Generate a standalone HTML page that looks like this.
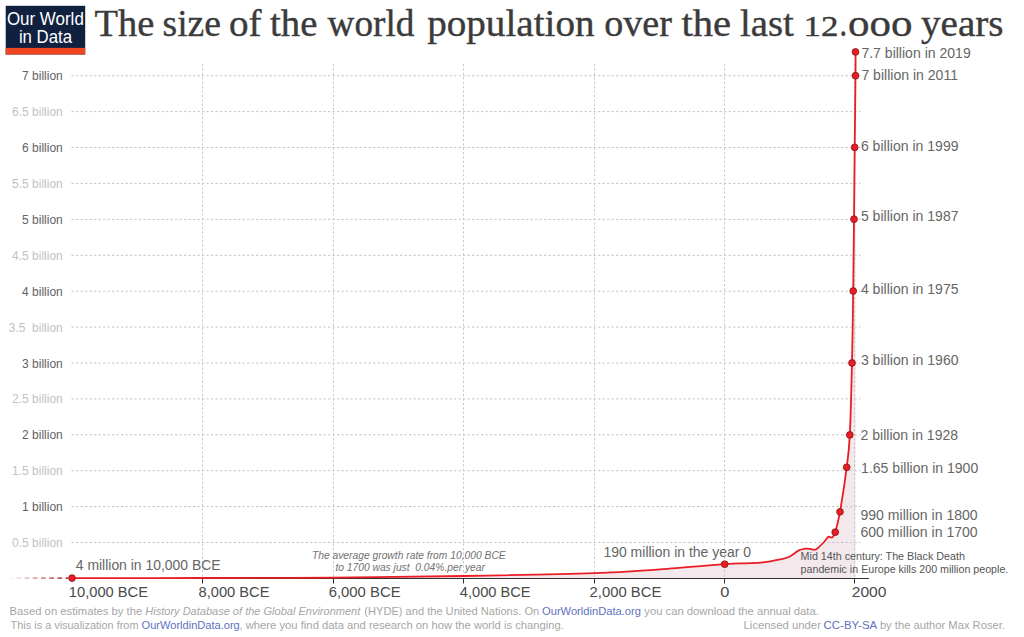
<!DOCTYPE html>
<html><head><meta charset="utf-8"><style>
html,body{margin:0;padding:0;background:#fff;width:1024px;height:637px;overflow:hidden}
svg{display:block;font-family:"Liberation Sans",sans-serif}
.yd{font-size:12px;fill:#626262;text-anchor:end}
.yl{font-size:12px;fill:#c2c2c2;text-anchor:end}
.rl{font-size:14.05px;fill:#666}
.xl{font-size:14.7px;fill:#4a4a4a}
.ft{font-size:11.2px;fill:#a6a6a6}
.lk{fill:#6270c0}
</style></head><body>
<svg width="1024" height="637" viewBox="0 0 1024 637">
<defs>
<linearGradient id="fade" gradientUnits="userSpaceOnUse" x1="8" y1="0" x2="70" y2="0">
<stop offset="0" stop-color="#b8333a" stop-opacity="0"/>
<stop offset="1" stop-color="#b8333a" stop-opacity="1"/>
</linearGradient>
</defs>
<!-- logo -->
<rect x="5.7" y="5.8" width="79.5" height="48.7" fill="#10213f"/>
<rect x="5.7" y="47.9" width="79.5" height="6.6" fill="#ee4722"/>
<text x="6.89" y="25.1" font-size="18.7" fill="#fff" textLength="76.94" lengthAdjust="spacingAndGlyphs">Our World</text>
<text x="18.9" y="42.8" font-size="18.7" fill="#fff" textLength="53.19" lengthAdjust="spacingAndGlyphs">in Data</text>
<!-- title -->
<g font-family="Liberation Serif" font-size="38.75" fill="#3b3b3b" stroke="#3b3b3b" stroke-width="0.4" lengthAdjust="spacingAndGlyphs">
<text x="94.4" y="36.4" textLength="59.84" lengthAdjust="spacingAndGlyphs">The</text>
<text x="162.53" y="36.4" textLength="58.48" lengthAdjust="spacingAndGlyphs">size</text>
<text x="229" y="36.4" textLength="32.58" lengthAdjust="spacingAndGlyphs">of</text>
<text x="270.1" y="36.4" textLength="47.24" lengthAdjust="spacingAndGlyphs">the</text>
<text x="327.6" y="36.4" textLength="86.79" lengthAdjust="spacingAndGlyphs">world</text>
<text x="427.2" y="36.4" textLength="167.35" lengthAdjust="spacingAndGlyphs">population</text>
<text x="604.22" y="36.4" textLength="67.64" lengthAdjust="spacingAndGlyphs">over</text>
<text x="681.4" y="36.4" textLength="49.56" lengthAdjust="spacingAndGlyphs">the</text>
<text x="740.0" y="36.4" textLength="53.71" lengthAdjust="spacingAndGlyphs">last</text>
<text x="803.42" y="36.4" font-size="29.5" textLength="34.95" lengthAdjust="spacingAndGlyphs">12</text>
<text x="839.43" y="36.4" textLength="7.59" lengthAdjust="spacingAndGlyphs">.</text>
<text x="848.09" y="36.4" textLength="64.46" lengthAdjust="spacingAndGlyphs">ooo</text>
<text x="921.0" y="36.4" textLength="82.47" lengthAdjust="spacingAndGlyphs">years</text>
</g>
<!-- fill -->
<path d="M72,578.1 C93.67,578.08 158.50,578.08 202,578.0 C245.50,577.92 289.33,577.93 333,577.6 C376.67,577.27 420.50,576.73 464,576.0 C507.50,575.27 561.33,574.32 594,573.2 C626.67,572.08 638.17,570.80 660,569.3 C681.83,567.80 710.83,565.20 725,564.2 C739.17,563.20 738.67,563.60 745,563.3 C751.33,563.00 757.17,563.05 763,562.4 C768.83,561.75 775.60,560.35 780,559.4 C784.40,558.45 786.27,558.20 789.4,556.7 C792.53,555.20 796.18,551.73 798.8,550.4 C801.42,549.07 803.23,548.95 805.1,548.7 C806.97,548.45 808.43,548.72 810,548.9 C811.57,549.08 813.22,549.92 814.5,549.8 C815.78,549.68 816.12,549.50 817.7,548.2 C819.28,546.90 822.23,543.88 824,542 C825.77,540.12 826.95,537.67 828.3,536.9 C829.65,536.13 830.95,538.18 832.1,537.4 C833.25,536.62 833.88,536.47 835.2,532.2 C836.52,527.93 838.08,522.62 840,511.8 C841.92,500.98 845.07,480.12 846.7,467.3 C848.33,454.48 848.92,452.28 849.8,434.9 C850.68,417.52 851.43,386.98 852,363 C852.57,339.02 852.87,314.97 853.2,291 C853.53,267.03 853.75,243.13 854,219.2 C854.25,195.27 854.45,171.32 854.7,147.4 C854.95,123.48 855.37,91.62 855.5,75.7 C855.63,59.78 855.50,55.87 855.5,51.9 L855.7,51.9 L855.7,578 L72,578 Z" fill="#f3e8ec"/>
<!-- grid -->
<g stroke="#c4c4c4" stroke-width="1" stroke-dasharray="2.3,2.2">
<line x1="71.5" y1="542.5" x2="860.5" y2="542.5"/><line x1="71.5" y1="506.6" x2="860.5" y2="506.6"/><line x1="71.5" y1="470.7" x2="860.5" y2="470.7"/><line x1="71.5" y1="434.8" x2="860.5" y2="434.8"/><line x1="71.5" y1="398.9" x2="860.5" y2="398.9"/><line x1="71.5" y1="363.0" x2="860.5" y2="363.0"/><line x1="71.5" y1="327.1" x2="860.5" y2="327.1"/><line x1="71.5" y1="291.2" x2="860.5" y2="291.2"/><line x1="71.5" y1="255.3" x2="860.5" y2="255.3"/><line x1="71.5" y1="219.4" x2="860.5" y2="219.4"/><line x1="71.5" y1="183.4" x2="860.5" y2="183.4"/><line x1="71.5" y1="147.5" x2="860.5" y2="147.5"/><line x1="71.5" y1="111.6" x2="860.5" y2="111.6"/><line x1="71.5" y1="75.7" x2="860.5" y2="75.7"/>
</g>
<g stroke="#c8c8c8" stroke-width="1" stroke-dasharray="2.2,2.2">
<line x1="202.5" y1="64" x2="202.5" y2="578"/><line x1="333.5" y1="64" x2="333.5" y2="578"/><line x1="463.5" y1="64" x2="463.5" y2="578"/><line x1="594.5" y1="64" x2="594.5" y2="578"/><line x1="724.5" y1="64" x2="724.5" y2="578"/><line x1="854.5" y1="64" x2="854.5" y2="578"/>
</g>
<text class="yl" x="62.8" y="547.0">0.5 billion</text><text class="yd" x="62.8" y="511.1">1 billion</text><text class="yl" x="62.8" y="475.2">1.5 billion</text><text class="yd" x="62.8" y="439.3">2 billion</text><text class="yl" x="62.8" y="403.4">2.5 billion</text><text class="yd" x="62.8" y="367.5">3 billion</text><text class="yl" x="62.8" y="331.6">3.5&#160;&#160;billion</text><text class="yd" x="62.8" y="295.7">4 billion</text><text class="yl" x="62.8" y="259.8">4.5 billion</text><text class="yd" x="62.8" y="223.9">5 billion</text><text class="yl" x="62.8" y="187.9">5.5 billion</text><text class="yd" x="62.8" y="152.0">6 billion</text><text class="yl" x="62.8" y="116.1">6.5 billion</text><text class="yd" x="62.8" y="80.2">7 billion</text>
<!-- axis -->
<line x1="72" y1="578.5" x2="869" y2="578.5" stroke="#333" stroke-width="1.2"/>
<g stroke="#333" stroke-width="1"><line x1="202.5" y1="578" x2="202.5" y2="583.5"/><line x1="333.5" y1="578" x2="333.5" y2="583.5"/><line x1="463.5" y1="578" x2="463.5" y2="583.5"/><line x1="594.5" y1="578" x2="594.5" y2="583.5"/><line x1="724.5" y1="578" x2="724.5" y2="583.5"/><line x1="854.5" y1="578" x2="854.5" y2="583.5"/></g>
<text class="xl" x="68.8" y="597.2" textLength="79.22" lengthAdjust="spacingAndGlyphs">10,000 BCE</text><text class="xl" x="198.6" y="597.2" textLength="70.84" lengthAdjust="spacingAndGlyphs">8,000 BCE</text><text class="xl" x="328.69" y="597.2" textLength="71.86" lengthAdjust="spacingAndGlyphs">6,000 BCE</text><text class="xl" x="459.8" y="597.2" textLength="70.85" lengthAdjust="spacingAndGlyphs">4,000 BCE</text><text class="xl" x="589.59" y="597.2" textLength="71.71" lengthAdjust="spacingAndGlyphs">2,000 BCE</text><text class="xl" x="720.29" y="597.2" textLength="9.11" lengthAdjust="spacingAndGlyphs">0</text><text class="xl" x="851.84" y="597.2" textLength="34.59" lengthAdjust="spacingAndGlyphs">2000</text>
<!-- dashed left -->
<line x1="8.2" y1="578.1" x2="68" y2="578.1" stroke="url(#fade)" stroke-width="1.8" stroke-dasharray="4.7,3.5"/>
<path d="M72,578.1 C93.67,578.08 158.50,578.08 202,578.0 C245.50,577.92 289.33,577.93 333,577.6 C376.67,577.27 420.50,576.73 464,576.0 C507.50,575.27 561.33,574.32 594,573.2 C626.67,572.08 638.17,570.80 660,569.3 C681.83,567.80 710.83,565.20 725,564.2 C739.17,563.20 738.67,563.60 745,563.3 C751.33,563.00 757.17,563.05 763,562.4 C768.83,561.75 775.60,560.35 780,559.4 C784.40,558.45 786.27,558.20 789.4,556.7 C792.53,555.20 796.18,551.73 798.8,550.4 C801.42,549.07 803.23,548.95 805.1,548.7 C806.97,548.45 808.43,548.72 810,548.9 C811.57,549.08 813.22,549.92 814.5,549.8 C815.78,549.68 816.12,549.50 817.7,548.2 C819.28,546.90 822.23,543.88 824,542 C825.77,540.12 826.95,537.67 828.3,536.9 C829.65,536.13 830.95,538.18 832.1,537.4 C833.25,536.62 833.88,536.47 835.2,532.2 C836.52,527.93 838.08,522.62 840,511.8 C841.92,500.98 845.07,480.12 846.7,467.3 C848.33,454.48 848.92,452.28 849.8,434.9 C850.68,417.52 851.43,386.98 852,363 C852.57,339.02 852.87,314.97 853.2,291 C853.53,267.03 853.75,243.13 854,219.2 C854.25,195.27 854.45,171.32 854.7,147.4 C854.95,123.48 855.37,91.62 855.5,75.7 C855.63,59.78 855.50,55.87 855.5,51.9" fill="none" stroke="#ea1d26" stroke-width="1.8" stroke-linejoin="round"/>
<g fill="#ec1c24" stroke="#7d1818" stroke-width="0.8"><circle cx="72" cy="578.1" r="3.4"/><circle cx="724.7" cy="564.2" r="3.4"/><circle cx="835.2" cy="532.2" r="3.4"/><circle cx="840" cy="511.8" r="3.4"/><circle cx="846.7" cy="467.3" r="3.4"/><circle cx="849.8" cy="434.9" r="3.4"/><circle cx="852" cy="363" r="3.4"/><circle cx="853.2" cy="291" r="3.4"/><circle cx="854" cy="219.2" r="3.4"/><circle cx="854.7" cy="147.4" r="3.4"/><circle cx="855.5" cy="75.7" r="3.4"/><circle cx="855.5" cy="51.9" r="3.4"/></g>
<text class="rl" x="861.4" y="57.8">7.7 billion in 2019</text><text class="rl" x="861.4" y="79.5">7 billion in 2011</text><text class="rl" x="860.9" y="151.4">6 billion in 1999</text><text class="rl" x="860.9" y="220.7">5 billion in 1987</text><text class="rl" x="860.9" y="294.4">4 billion in 1975</text><text class="rl" x="860.9" y="365.4">3 billion in 1960</text><text class="rl" x="860.5" y="439.7">2 billion in 1928</text><text class="rl" x="861.1" y="472.5">1.65 billion in 1900</text><text class="rl" x="860.5" y="520.2">990 million in 1800</text><text class="rl" x="860.5" y="537.3">600 million in 1700</text>
<text x="75.8" y="569.5" font-size="14.0" textLength="144.73" lengthAdjust="spacingAndGlyphs" fill="#666">4 million in 10,000 BCE</text>
<text x="603.4" y="557" font-size="14.05" textLength="147.75" lengthAdjust="spacingAndGlyphs" fill="#666">190 million in the year 0</text>
<text x="311.91" y="559" font-size="10.38" font-style="italic" fill="#717171" textLength="193.8" lengthAdjust="spacingAndGlyphs">The average growth rate from 10,000 BCE</text>
<text x="335.4" y="570.9" font-size="10.38" font-style="italic" fill="#717171" textLength="149.52" lengthAdjust="spacingAndGlyphs">to 1700 was just&#160;&#160;0.04%.per year</text>
<text x="800.6" y="559.6" font-size="10.78" textLength="164.26" lengthAdjust="spacingAndGlyphs" fill="#555">Mid 14th century: The Black Death</text>
<text x="800.6" y="572.9" font-size="10.78" textLength="207.74" lengthAdjust="spacingAndGlyphs" fill="#555">pandemic in Europe kills 200 million people.</text>
<!-- footer -->
<g class="ft" lengthAdjust="spacingAndGlyphs">
<text x="9.59" y="614.8" textLength="132.66" lengthAdjust="spacingAndGlyphs">Based on estimates by the</text>
<text x="145.3" y="614.8" textLength="214.98" lengthAdjust="spacingAndGlyphs" font-style="italic">History Database of the Global Environment</text>
<text x="364.31" y="614.8" textLength="174.99" lengthAdjust="spacingAndGlyphs">(HYDE) and the United Nations. On</text>
<text x="542.0" y="614.8" textLength="98.98" lengthAdjust="spacingAndGlyphs" class="lk">OurWorldinData.org</text>
<text x="644.3" y="614.8" textLength="174.55" lengthAdjust="spacingAndGlyphs">you can download the annual data.</text>
<text x="10.6" y="629.4" textLength="127.88" lengthAdjust="spacingAndGlyphs">This is a visualization from</text>
<text x="141.6" y="629.4" textLength="98.18" lengthAdjust="spacingAndGlyphs" class="lk">OurWorldinData.org</text>
<text x="239.49" y="629.4" textLength="324.49" lengthAdjust="spacingAndGlyphs">, where you find data and research on how the world is changing.</text>
<text x="743.59" y="629.4" textLength="77.33" lengthAdjust="spacingAndGlyphs">Licensed under</text>
<text x="823.58" y="629.4" textLength="53.57" lengthAdjust="spacingAndGlyphs" class="lk">CC-BY-SA</text>
<text x="879.9" y="629.4" textLength="125.1" lengthAdjust="spacingAndGlyphs">by the author Max Roser.</text>
</g>
</svg>
</body></html>
